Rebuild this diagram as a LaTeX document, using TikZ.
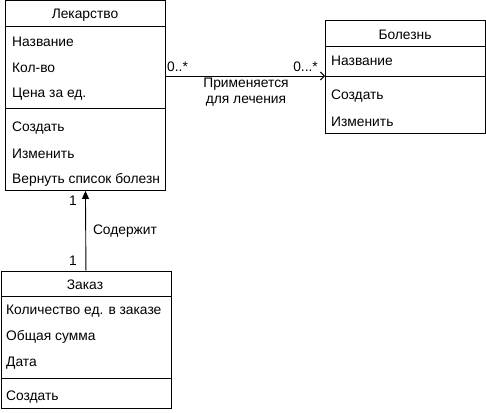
\documentclass[tikz,border=0pt]{standalone}
\usepackage{fontspec}
\setmainfont{Liberation Sans}
\usetikzlibrary{arrows.meta}
\begin{document}
\begin{tikzpicture}[x=1pt,y=-1pt,
  box/.style={draw,line width=0.9pt,anchor=north west,inner sep=0pt},
  rowtxt/.style={anchor=west,inner sep=0pt,font=\fontsize{13.8}{15}\selectfont},
  headtxt/.style={inner sep=0pt,font=\fontsize{13.8}{15}\selectfont},
  lbl/.style={inner sep=0pt,font=\fontsize{13.8}{15}\selectfont},
  sepline/.style={line width=0.9pt},
  conn/.style={line width=0.9pt}]
\useasboundingbox (0,0) rectangle (486,412);
% Лекарство
\node[box,minimum width=160pt,minimum height=189.5pt] (lek) at (5,0.5) {};
\draw[sepline] (5,26) -- (165,26);
\draw[sepline] (5,108) -- (165,108);
\node[headtxt] (lekh) at (85,15) {Лекарство};
\node[rowtxt] (lek1) at (12,42) {Название};
\node[rowtxt] (lek2) at (12,68) {Кол-во};
\node[rowtxt] (lek3) at (12,94) {Цена за ед.};
\node[rowtxt] (lek4) at (12,128) {Создать};
\node[rowtxt] (lek5) at (12,154) {Изменить};
\node[rowtxt] (lek6) at (12,180) {Вернуть список болезн};
% Болезнь
\node[box,minimum width=160pt,minimum height=112pt] (bol) at (325,20.5) {};
\draw[sepline] (325,46) -- (485,46);
\draw[sepline] (325,76) -- (485,76);
\node[headtxt] (bolh) at (405,35) {Болезнь};
\node[rowtxt] (bol1) at (331,61) {Название};
\node[rowtxt] (bol2) at (331,96) {Создать};
\node[rowtxt] (bol3) at (331,122) {Изменить};
\coordinate (bolsep) at (325,76);
% Заказ
\node[box,minimum width=170pt,minimum height=137.5pt] (zak) at (0.5,270.5) {};
\draw[sepline] (0.5,296) -- (170.5,296);
\draw[sepline] (0.5,378) -- (170.5,378);
\node[headtxt] (zakh) at (85,285) {Заказ};
\node[rowtxt] (zak1) at (6,311) {Количество ед. в заказе};
\node[rowtxt] (zak2) at (6,337) {Общая сумма};
\node[rowtxt] (zak3) at (6,363) {Дата};
\node[rowtxt] (zak4) at (6,397) {Создать};
% connectors
\draw[conn,-{Stealth[length=8pt,width=7pt,inset=0pt]}] (zak.north) -- (lek.south);
\draw[conn,-{Straight Barb[length=4pt,width=8pt]}] (lek.east |- bolsep) -- (bolsep);
% labels
\node[lbl] (m1) at (73,201) {1};
\node[lbl] (m2) at (73,261) {1};
\node[lbl] (cont) at (125,231) {Содержит};
\node[lbl,anchor=west] (m3) at (167,67) {0..*};
\node[lbl,anchor=east] (m4) at (318,67) {0...*};
\node[lbl,align=center,font=\fontsize{13.8}{16}\selectfont] (appl) at (246,92) {Применяется\\для лечения};
\end{tikzpicture}
\end{document}
